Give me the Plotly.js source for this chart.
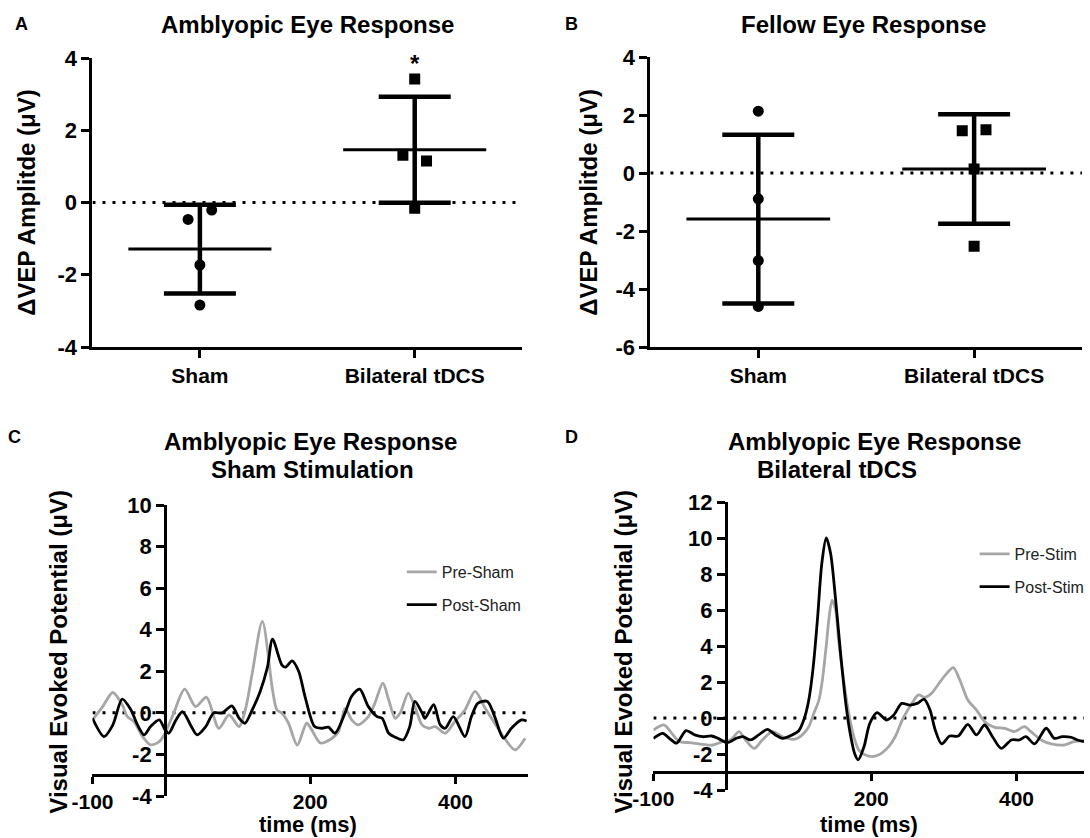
<!DOCTYPE html>
<html>
<head>
<meta charset="utf-8">
<script src="https://cdn.plot.ly/plotly-3.0.1.min.js"></script>
<style>html,body{margin:0;padding:0;background:#fff;}#chart{width:1090px;height:838px;}</style>
</head>
<body>
<div id="chart"></div>
<script>
// ---------------- DATA ----------------
const groups = ['Sham', 'Bilateral tDCS'];

// Panel A: amblyopic eye, change in VEP amplitude (µV)
const ambShamVals = [-2.84, -0.47, -0.21, -1.73];
const ambBilVals  = [3.42, 1.31, 1.15, -0.16];
const ambMean = [-1.29, 1.46];
const ambSD   = [1.23, 1.47];

// Panel B: fellow eye
const felShamVals = [2.13, -0.89, -3.02, -4.60];
const felBilVals  = [1.46, 1.49, 0.14, -2.53];
const felMean = [-1.59, 0.14];
const felSD   = [2.91, 1.89];

// Panel C: sham stimulation waveforms (time ms, µV)
const preShamT = [-100,-86,-72,-59,-52,-43,-31,-20,-8,0,12,27,42,57,74,88,102,111,120,134,148,154,161,170,182,195,202,214,230,239,248,257,266,280,289,300,308,317,324,335,344,354,363,372,386,399,413,427,441,454,466,482,496];
const preShamV = [-0.34,0.3,0.98,0.39,-0.18,-0.42,-1.14,-1.54,-1.38,-0.98,0.0,1.14,0.3,0.75,-0.74,-0.1,-0.66,0.22,1.9,4.4,1.1,0.15,-0.02,-0.5,-1.55,-0.5,-0.82,-1.45,-1.22,-0.9,0.22,-0.34,-0.58,-0.18,0.47,1.43,0.63,-0.26,0.0,0.95,0.3,-0.58,-0.74,-0.66,-0.98,-0.42,0.14,1.03,0.22,-0.5,-1.14,-1.78,-1.22];
const postShamT = [-100,-84,-72,-59,-47,-38,-29,-20,-8,0,5,15,24,35,44,56,67,79,92,102,110,120,131,141,148,161,166,175,184,193,206,216,225,234,248,257,268,280,292,299,308,317,328,337,344,354,358,370,379,386,397,413,422,431,444,454,466,477,491,498];
const postShamV = [-0.26,-1.14,-0.58,0.66,0.14,-0.58,-1.06,-0.66,-0.34,-0.82,-0.98,-0.34,0.06,-0.58,-1.06,-0.66,0.0,0.0,0.34,-0.26,-0.5,0.14,1.03,2.2,3.55,2.3,2.2,2.5,2.0,0.75,-0.66,-0.74,-0.69,-0.98,0.0,0.8,1.14,0.3,-0.18,-0.26,-0.98,-1.17,-1.3,-0.66,0.55,0.0,-0.26,0.39,-0.58,-0.74,-0.18,-1.14,-0.18,0.47,0.55,-0.18,-1.22,-0.74,-0.34,-0.39];

// Panel D: bilateral tDCS waveforms
const preStimT = [-100,-85,-73,-64,-50,-32,-18,-5,7,18,27,39,50,64,78,94,105,114,121,128,133,138,142,146,151,155,162,169,176,183,192,201,210,224,233,244,256,265,274,283,295,304,313,322,333,345,356,370,384,397,411,420,434,448,466,479,493];
const preStimV = [-0.67,-0.39,-0.94,-1.31,-1.37,-1.46,-1.5,-1.31,-1.19,-0.76,-1.22,-1.69,-1.22,-0.76,-1.04,-1.19,-0.94,-0.48,0.26,1.0,2.2,4.0,5.6,6.55,6.0,4.33,2.1,0.26,-1.04,-1.78,-2.06,-2.15,-2.06,-1.59,-1.04,0.0,0.81,1.28,1.15,1.37,2.02,2.48,2.8,2.11,1.0,0.44,-0.2,-0.52,-0.57,-0.76,-0.48,-0.76,-1.22,-1.44,-1.5,-1.31,-1.26];
const postStimT = [-100,-87,-78,-68,-55,-43,-32,-20,-11,2,14,23,34,45,57,68,78,91,100,108,114,120,126,132,138,144,151,158,165,171,177,182,190,198,208,221,231,242,253,263,273,281,288,297,308,320,333,345,356,367,379,393,404,413,425,441,452,463,475,484,493];
const postStimV = [-1.13,-0.85,-1.13,-1.4,-0.7,-0.94,-1.04,-1.0,-1.13,-1.37,-1.13,-1.04,-1.22,-0.94,-0.63,-0.94,-1.13,-0.94,-0.72,0.0,1.0,2.8,5.5,8.6,10.0,9.15,6.55,3.5,0.8,-0.85,-1.96,-2.33,-1.6,-0.3,0.3,-0.11,0.17,0.81,0.72,0.81,1.04,0.44,-0.65,-1.44,-1.0,-1.0,-0.35,-0.94,-0.39,-1.04,-1.69,-1.22,-1.22,-1.04,-1.44,-0.57,-1.13,-1.04,-1.07,-1.22,-1.31];

// Tick values and labels (hyphen minus as in the original)
const ticksA_Y = [-4, -2, 0, 2, 4];
const ticksB_Y = [-6, -4, -2, 0, 2, 4];
const ticksC_Y = [-4, -2, 0, 2, 4, 6, 8, 10];
const ticksD_Y = [-4, -2, 0, 2, 4, 6, 8, 10, 12];
const ticksT = [-100, 200, 400];
const lbl = arr => arr.map(v => String(v));

// ---------------- LAYOUT CONSTANTS ----------------
const W = 1090, H = 838;
const FONT = 'Liberation Sans, Arial, Helvetica, sans-serif';
const fx = p => p / W, fy = p => 1 - p / H;
const JIT = 0.055, MEANHALF = 0.333, CAPPX = 36;
const ambShamOff = [0, -1, 1, 0], ambBilOff = [0, -1, 1, 0];
const felShamOff = [0, 0, 0, 0], felBilOff = [-1, 1, 0, 0];
const GRAY = '#a6a6a6', BLACK = '#000000';

const P = {
  A: {x0: 93, x1: 525, yt: 58, yb: 347, xr: [-0.5, 1.5], yr: [-4, 4]},
  B: {x0: 654, x1: 1088, yt: 57, yb: 347, xr: [-0.5, 1.5], yr: [-6, 4]},
  C: {x0: 93, x1: 531, yt: 505, yb: 796, xr: [-100, 500], yr: [-4, 10]},
  D: {x0: 657, x1: 1090, yt: 502, yb: 790, xr: [-100, 493], yr: [-4, 12]}
};
const dom = p => ({x: [fx(p.x0), fx(p.x1)], y: [fy(p.yb), fy(p.yt)]});

const axStyle = {
  showline: true, linecolor: '#000', linewidth: 3, mirror: false,
  ticks: 'outside', ticklen: 8, tickwidth: 3, tickcolor: '#000',
  showgrid: false, zeroline: false, fixedrange: true,
  tickfont: {family: FONT, size: 22, color: '#000', weight: 'bold'}
};
const catFont = {family: FONT, size: 21, color: '#000', weight: 'bold'};
const timeFont = {family: FONT, size: 21, color: '#000', weight: 'bold'};

// ---------------- TRACES ----------------
const traces = [];
function dotPanel(xa, ya, shamVals, bilVals, shamOff, bilOff, means, sds) {
  traces.push({
    type: 'scatter', mode: 'markers', x: [0, 1], y: means, xaxis: xa, yaxis: ya,
    marker: {size: 1, color: 'rgba(0,0,0,0)'},
    error_y: {type: 'data', array: sds, visible: true, color: BLACK, thickness: 4.5, width: CAPPX},
    showlegend: false, hoverinfo: 'skip'
  });
  means.forEach((m, i) => {
    traces.push({
      type: 'scatter', mode: 'lines', x: [i - MEANHALF, i + MEANHALF], y: [m, m],
      xaxis: xa, yaxis: ya, line: {color: BLACK, width: 3}, showlegend: false, hoverinfo: 'skip'
    });
  });
  traces.push({
    type: 'scatter', mode: 'markers', x: shamOff.map(o => 0 + o * JIT), y: shamVals,
    xaxis: xa, yaxis: ya, marker: {symbol: 'circle', size: 11, color: BLACK}, showlegend: false
  });
  traces.push({
    type: 'scatter', mode: 'markers', x: bilOff.map(o => 1 + o * JIT), y: bilVals,
    xaxis: xa, yaxis: ya, marker: {symbol: 'square', size: 11, color: BLACK}, showlegend: false
  });
}
dotPanel('x', 'y', ambShamVals, ambBilVals, ambShamOff, ambBilOff, ambMean, ambSD);
dotPanel('x2', 'y2', felShamVals, felBilVals, felShamOff, felBilOff, felMean, felSD);

function wave(t, v, name, color, xa, ya, legend, grp) {
  traces.push({
    type: 'scatter', mode: 'lines', x: t, y: v, name: name, xaxis: xa, yaxis: ya,
    line: {color: color, width: 2.8, shape: 'spline', smoothing: 0.8},
    legend: legend, legendgroup: grp, hoverinfo: 'skip'
  });
}
wave(preShamT, preShamV, 'Pre-Sham', GRAY, 'x3', 'y3', 'legend', 'c1');
wave(postShamT, postShamV, 'Post-Sham', BLACK, 'x3', 'y3', 'legend', 'c2');
wave(preStimT, preStimV, 'Pre-Stim', GRAY, 'x4', 'y4', 'legend2', 'd1');
wave(postStimT, postStimV, 'Post-Stim', BLACK, 'x4', 'y4', 'legend2', 'd2');

// ---------------- AXES ----------------
const dA = dom(P.A), dB = dom(P.B), dC = dom(P.C), dD = dom(P.D);
const freePosX = (d, p, v) => d.x[0] + (v - p.xr[0]) / (p.xr[1] - p.xr[0]) * (d.x[1] - d.x[0]);
const freePosY = (d, p, v) => d.y[0] + (v - p.yr[0]) / (p.yr[1] - p.yr[0]) * (d.y[1] - d.y[0]);
const ax = extra => Object.assign({}, axStyle, extra);

const layout = {
  width: W, height: H, margin: {l: 0, r: 0, t: 0, b: 0},
  paper_bgcolor: '#fff', plot_bgcolor: 'rgba(0,0,0,0)',
  font: {family: FONT, color: '#000'},
  showlegend: true,
  xaxis:  ax({domain: dA.x, range: P.A.xr, anchor: 'y', tickvals: [0, 1], ticktext: groups, tickfont: catFont}),
  yaxis:  ax({domain: dA.y, range: P.A.yr, anchor: 'x', tickvals: ticksA_Y, ticktext: lbl(ticksA_Y)}),
  xaxis2: ax({domain: dB.x, range: P.B.xr, anchor: 'y2', tickvals: [0, 1], ticktext: groups, tickfont: catFont}),
  yaxis2: ax({domain: dB.y, range: P.B.yr, anchor: 'x2', tickvals: ticksB_Y, ticktext: lbl(ticksB_Y)}),
  xaxis3: ax({domain: dC.x, range: P.C.xr, anchor: 'free', position: freePosY(dC, P.C, -3), tickvals: ticksT, ticktext: lbl(ticksT), tickfont: timeFont, ticklen: 7}),
  yaxis3: ax({domain: dC.y, range: P.C.yr, anchor: 'free', position: freePosX(dC, P.C, 0), tickvals: ticksC_Y, ticktext: lbl(ticksC_Y)}),
  xaxis4: ax({domain: dD.x, range: P.D.xr, anchor: 'free', position: freePosY(dD, P.D, -3), tickvals: ticksT, ticktext: lbl(ticksT), tickfont: timeFont, ticklen: 7}),
  yaxis4: ax({domain: dD.y, range: P.D.yr, anchor: 'free', position: freePosX(dD, P.D, 0), tickvals: ticksD_Y, ticktext: lbl(ticksD_Y)}),
  legend: {x: fx(404), y: fy(555), xanchor: 'left', yanchor: 'top', bgcolor: 'rgba(0,0,0,0)',
           font: {family: FONT, size: 16, color: '#222'}, traceorder: 'grouped', tracegroupgap: 9},
  legend2: {x: fx(980), y: fy(537), xanchor: 'left', yanchor: 'top', bgcolor: 'rgba(0,0,0,0)',
           font: {family: FONT, size: 16, color: '#222'}, traceorder: 'grouped', tracegroupgap: 9},
  shapes: [
    ['x', 'y', P.A], ['x2', 'y2', P.B], ['x3', 'y3', P.C], ['x4', 'y4', P.D]
  ].map(([xa, ya, p]) => ({
    type: 'line', xref: xa, yref: ya, x0: p.xr[0], x1: p.xr[1], y0: 0, y1: 0, layer: 'below',
    line: {color: '#000', width: 3, dash: '3px,7px'}
  })),
  annotations: []
};

const ann = (text, xp, yp, size, extra) => Object.assign({
  text: text, xref: 'paper', yref: 'paper', x: fx(xp), y: fy(yp), showarrow: false,
  xanchor: 'center', yanchor: 'middle',
  font: {family: FONT, size: size, color: '#000', weight: 'bold'}
}, extra || {});

layout.annotations.push(
  ann('A', 22, 24, 18), ann('B', 575, 24, 18), ann('C', 15, 437, 18), ann('D', 575, 437, 18),
  ann('Amblyopic Eye Response', 309, 24, 24),
  ann('Fellow Eye Response', 868, 24, 24),
  ann('Amblyopic Eye Response', 312, 441, 24),
  ann('Sham Stimulation', 314, 469, 24),
  ann('Amblyopic Eye Response', 879, 441, 24),
  ann('Bilateral tDCS', 842, 469, 24),
  ann('ΔVEP Amplitde (μV)', 26, 202, 24, {textangle: -90}),
  ann('ΔVEP Amplitde (μV)', 591, 202, 24, {textangle: -90}),
  ann('Visual Evoked Potential (μV)', 58, 652, 24, {textangle: -90}),
  ann('Visual Evoked Potential (μV)', 626, 652, 24, {textangle: -90}),
  ann('time (ms)', 310, 824, 22),
  ann('time (ms)', 874, 824, 22),
  {text: '*', xref: 'x', yref: 'y', x: 1, y: 3.86, showarrow: false, xanchor: 'center', yanchor: 'middle',
   font: {family: FONT, size: 24, color: '#000', weight: 'bold'}}
);

Plotly.newPlot('chart', traces, layout, {staticPlot: true, displayModeBar: false});
</script>
</body>
</html>
